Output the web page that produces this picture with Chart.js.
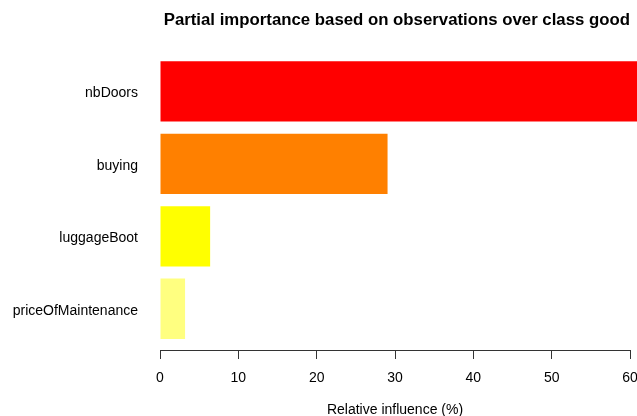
<!DOCTYPE html>
<html>
<head>
<meta charset="utf-8">
<script src="https://cdn.jsdelivr.net/npm/chart.js@4"></script>
<style>
  html, body { margin: 0; padding: 0; background: #fff; }
  #wrap { width: 637px; height: 416px; }
</style>
</head>
<body>
<div id="wrap"><canvas id="chart"></canvas></div>
<script>
// values (relative influence, %)
const categories = ["nbDoors", "buying", "luggageBoot", "priceOfMaintenance"];
const influence = [61.4, 29.05, 6.4, 3.2];
const barColors = ["#FF0000", "#FF8000", "#FFFF00", "#FFFF80"];
const xTicks = [0, 10, 20, 30, 40, 50, 60];

// barplot-style positions: width 1, space 0.2
const barPos = categories.map((c, i) => 0.7 + 1.2 * i);

const ctx = document.getElementById("chart");
new Chart(ctx, {
  type: "bar",
  data: {
    datasets: [
      {
        data: influence.map((v, i) => ({ x: v, y: barPos[i] })),
        backgroundColor: barColors,
        borderWidth: 0,
        barPercentage: 1,
        categoryPercentage: 0.833,
        clip: false
      }
    ]
  },
  options: {
    indexAxis: "y",
    responsive: true,
    maintainAspectRatio: false,
    animation: false,
    layout: { padding: { left: 0, right: 7, top: 0, bottom: 0 } },
    plugins: {
      legend: { display: false },
      tooltip: { enabled: false },
      title: {
        display: true,
        text: "Partial importance based on observations over class good",
        align: "end",
        color: "#000",
        font: { family: "Liberation Sans, Arial, sans-serif", size: 16.8, weight: "bold" },
        padding: { top: 10, bottom: 20 }
      }
    },
    scales: {
      x: {
        type: "linear",
        min: 0,
        max: 60,
        afterBuildTicks: axis => { axis.ticks = xTicks.map(v => ({ value: v })); },
        afterFit: axis => {
          axis.height = 66;
          axis.paddingLeft = 0;
          axis.paddingRight = 0;
        },
        grid: {
          drawOnChartArea: false,
          drawTicks: true,
          tickLength: 9,
          tickColor: "#333",
          tickWidth: 1
        },
        border: { display: true, color: "#333", width: 1 },
        ticks: {
          color: "#000",
          padding: 11,
          maxRotation: 0,
          font: { family: "Liberation Sans, Arial, sans-serif", size: 14 }
        },
        title: {
          display: true,
          text: "Relative influence (%)",
          color: "#000",
          padding: { top: 0, bottom: -3 },
          font: { family: "Liberation Sans, Arial, sans-serif", size: 14 }
        }
      },
      y: {
        type: "linear",
        reverse: true,
        offset: false,
        min: 0.016,
        max: 4.984,
        afterBuildTicks: axis => { axis.ticks = barPos.map(v => ({ value: v })); },
        afterFit: axis => { axis.width = 160; },
        grid: { display: false, drawTicks: false },
        border: { display: false },
        ticks: {
          color: "#000",
          padding: 22,
          labelOffset: 2,
          callback: (v, i) => categories[i],
          font: { family: "Liberation Sans, Arial, sans-serif", size: 14 }
        }
      }
    }
  }
});
</script>
</body>
</html>
